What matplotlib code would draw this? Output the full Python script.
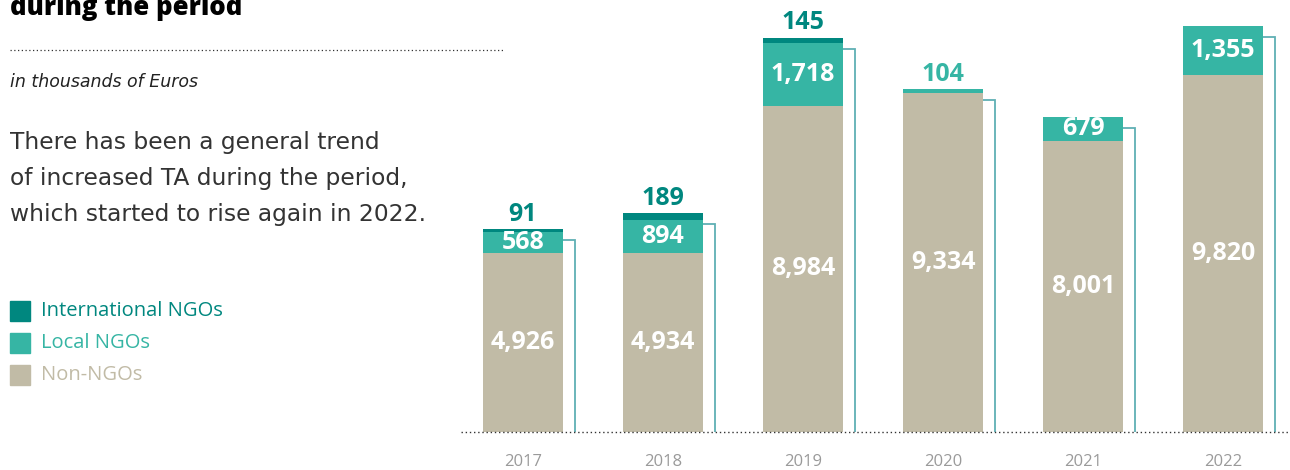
import matplotlib.pyplot as plt
import numpy as np

# values in thousands of Euros
years = ['2017', '2018', '2019', '2020', '2021', '2022']
non_ngo = [4926, 4934, 8984, 9334, 8001, 9820]
local_ngo = [568, 894, 1718, 104, 679, 1355]
intl_ngo = [91, 189, 145, 0, 0, 0]

c_intl = '#00877f'
c_local = '#36b5a4'
c_non = '#c1bba6'
c_line = '#5fb0b4'

plt.rcParams['font.family'] = ['Open Sans', 'DejaVu Sans']

fig = plt.figure(figsize=(12.9, 4.7), dpi=100)
W, H = 1290, 470

# axes in pixel terms: baseline at y=432 px, left edge x=461 px
ax = fig.add_axes([461 / W, (H - 432) / H, 1 - 461 / W, 432 / H])
px_per_unit = 0.03633
ax.set_ylim(0, 432 / px_per_unit)
ax.set_xlim(-62 / 140, (W - 523) / 140)
ax.axis('off')

x = np.arange(len(years))
width = 80 / 140
non_ngo = np.array(non_ngo)
local_ngo = np.array(local_ngo)
intl_ngo = np.array(intl_ngo)

ax.bar(x, non_ngo, width, color=c_non, zorder=2)
ax.bar(x, local_ngo, width, bottom=non_ngo, color=c_local, zorder=2)
ax.bar(x, intl_ngo, width, bottom=non_ngo + local_ngo, color=c_intl, zorder=2)

totals = non_ngo + local_ngo + intl_ngo
dx = 11.5 / 140
dy = 11 / px_per_unit
for i in range(len(years)):
    right = x[i] + width / 2
    ax.plot([right, right + dx, right + dx], [totals[i] - dy, totals[i] - dy, 0],
            color=c_line, lw=1.3, zorder=1, solid_joinstyle='miter')

# baseline
ax.plot([-62 / 140, (W - 523) / 140], [0, 0], color='#333333', lw=1,
        linestyle=(0, (1, 2)), zorder=3, clip_on=False)

lab = dict(ha='center', va='center', fontsize=18, fontweight='bold')
gap = 15 / px_per_unit
for i in range(len(years)):
    ax.text(x[i], non_ngo[i] / 2, f'{non_ngo[i]:,}', color='white', **lab)
    if local_ngo[i] > 500:
        ax.text(x[i], non_ngo[i] + local_ngo[i] / 2, f'{local_ngo[i]:,}', color='white', **lab)
    else:
        ax.text(x[i], totals[i] + gap, f'{local_ngo[i]:,}', color=c_local, **lab)
    if intl_ngo[i] > 0:
        ax.text(x[i], totals[i] + gap, f'{intl_ngo[i]:,}', color=c_intl, **lab)
    ax.text(x[i], -30 / px_per_unit, years[i], ha='center', va='center',
            fontsize=12, color='#9a9a9a', clip_on=False)

# left side texts
fig.text(10 / W, 1 - 8 / H, 'during the period', fontsize=18.5, fontweight='heavy',
         color='black', ha='left', va='center')
fig.add_artist(plt.Line2D([10 / W, 505 / W], [1 - 50 / H, 1 - 50 / H], color='#333333',
                          lw=0.9, linestyle=(0, (1, 2))))
fig.text(10 / W, 1 - 82 / H, 'in thousands of Euros', fontsize=12.5, style='italic',
         family='DejaVu Sans', color='#222222', ha='left', va='center')
para = ['There has been a general trend',
        'of increased TA during the period,',
        'which started to rise again in 2022.']
for k, line in enumerate(para):
    fig.text(10 / W, 1 - (143 + 36 * k) / H, line, fontsize=16.8, family='DejaVu Sans',
             color='#333333', ha='left', va='center')

legend_items = [('International NGOs', c_intl), ('Local NGOs', c_local), ('Non-NGOs', c_non)]
for k, (name, col) in enumerate(legend_items):
    yc = 311 + 32 * k
    fig.patches.append(plt.Rectangle((10 / W, 1 - (yc + 10) / H), 20 / W, 20 / H,
                                     transform=fig.transFigure, color=col))
    fig.text(41 / W, 1 - yc / H, name, fontsize=14.5, color=col, ha='left', va='center')

fig.savefig('out.png', dpi=100)
